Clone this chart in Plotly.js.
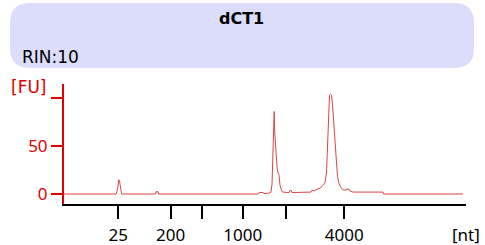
<!DOCTYPE html>
<html>
<head>
<meta charset="utf-8">
<script src="https://cdn.plot.ly/plotly-3.0.1.min.js"></script>
<style>html,body{margin:0;padding:0;background:#fff;}#chart{width:485px;height:245px;}</style>
</head>
<body>
<div id="chart"></div>
<script>
// Migration position (arbitrary units along the electropherogram) and fluorescence [FU]
const migration = [0, 52, 53, 53.5, 54, 54.5, 55.5, 56, 56.5, 57, 57.7,
  91.5, 92, 94, 94.5,
  194, 195, 199, 200, 206, 207, 208, 208.8, 209.5, 210.2, 210.8, 211.5, 212.2, 213, 214, 215, 216, 217, 218, 219, 221, 223, 225, 226, 227.5, 228, 241,
  247, 248, 250, 253, 256, 259, 261, 262.5, 263.5, 264, 265, 265.5, 266.5, 267.5, 268.5, 269.3, 270, 271, 272, 273.5, 275, 277, 279, 281, 283, 285, 286, 289, 319, 319.5, 399];
const fluorescence = [0, 0, 3, 5, 8, 14.6, 14, 10, 5, 2, 0,
  0, 2.4, 2.4, 0,
  0, 1.5, 1.5, 0.5, 1, 2, 10, 34, 60, 86, 63, 50, 44, 28, 22, 20, 9, 5, 2.4, 2, 2, 1.5, 1.5, 3.5, 3.5, 1.5, 1.5,
  2, 4, 3, 5, 6, 9, 12, 22, 50, 79, 95, 103, 104, 103, 93, 80, 65, 53, 34, 18, 11, 6.5, 4.5, 4, 5, 5, 3, 2, 2, 0, 0];

// Size-standard ladder positions and labels [nt]
const ladderPos = [54.3, 106.7, 138.3, 178.7, 222, 280.3];
const ladderText = ['25', '200', '', '1000', '', '4000'];

const yTicks = [0, 50, 100];
const yTickText = ['0', '50', ''];

const sampleName = 'dCT1';
const rinText = 'RIN:10';

// layout geometry helpers (pixels -> paper)
const W = 485, H = 245;
const mL = 64, mR = 19, mT = 84, mB = 41;
const pw = W - mL - mR, ph = H - mT - mB;
const px = v => (v - mL) / pw;
const py = v => (H - mB - v) / ph;

function roundRect(x0, y0, x1, y1, r) {
  const f = (a, b) => px(a).toFixed(4) + ',' + py(b).toFixed(4);
  return 'M' + f(x0 + r, y0) + ' L' + f(x1 - r, y0) + ' Q' + f(x1, y0) + ' ' + f(x1, y0 + r) +
    ' L' + f(x1, y1 - r) + ' Q' + f(x1, y1) + ' ' + f(x1 - r, y1) +
    ' L' + f(x0 + r, y1) + ' Q' + f(x0, y1) + ' ' + f(x0, y1 - r) +
    ' L' + f(x0, y0 + r) + ' Q' + f(x0, y0) + ' ' + f(x0 + r, y0) + ' Z';
}

const fontA = 'DejaVu Sans, Verdana, sans-serif';
const fontB = 'Noto Sans, sans-serif';

const trace = {
  x: migration, y: fluorescence, type: 'scatter', mode: 'lines',
  line: {color: '#d94545', width: 1}, hoverinfo: 'skip'
};

const layout = {
  width: W, height: H,
  margin: {l: mL, r: mR, t: mT, b: mB, pad: 0},
  paper_bgcolor: '#fff', plot_bgcolor: '#fff',
  showlegend: false,
  font: {family: fontB, size: 17, color: '#000'},
  xaxis: {
    range: [0, 402], showgrid: false, zeroline: false,
    showline: true, linecolor: '#000', linewidth: 2,
    ticks: 'outside', ticklen: 13, tickwidth: 2, tickcolor: '#000',
    ticklabelstandoff: 2,
    tickmode: 'array', tickvals: ladderPos, ticktext: ladderText,
    tickfont: {family: fontB, size: 17, color: '#000'}, fixedrange: true
  },
  yaxis: {
    range: [-10.42, 114.6], showgrid: false, zeroline: false,
    showline: true, linecolor: '#e00000', linewidth: 2,
    ticks: 'outside', ticklen: 11, tickwidth: 2, tickcolor: '#e00000',
    tickmode: 'array', tickvals: yTicks, ticktext: yTickText,
    tickfont: {family: fontB, size: 17, color: '#e00000'}, fixedrange: true
  },
  shapes: [{
    type: 'path', xref: 'paper', yref: 'paper', layer: 'below',
    path: roundRect(10, 3, 474, 68, 20),
    fillcolor: '#dcdcfb', line: {width: 0}
  }],
  annotations: [
    {text: '<b>' + sampleName + '</b>', xref: 'paper', yref: 'paper', x: px(241), y: py(18.5),
     xanchor: 'center', yanchor: 'middle', showarrow: false, font: {family: fontA, size: 16, color: '#000'}},
    {text: rinText, xref: 'paper', yref: 'paper', x: px(20), y: py(57.5),
     xanchor: 'left', yanchor: 'middle', showarrow: false, font: {family: fontA, size: 17, color: '#000'}},
    {text: '[FU]', xref: 'paper', yref: 'paper', x: px(49), y: py(87),
     xanchor: 'right', yanchor: 'middle', showarrow: false, font: {family: fontA, size: 17, color: '#e00000'}},
    {text: '[nt]', xref: 'paper', yref: 'paper', x: px(466), y: py(234),
     xanchor: 'center', yanchor: 'middle', showarrow: false, font: {family: fontB, size: 17, color: '#000'}}
  ]
};

Plotly.newPlot('chart', [trace], layout, {displayModeBar: false, staticPlot: true});
</script>
</body>
</html>
